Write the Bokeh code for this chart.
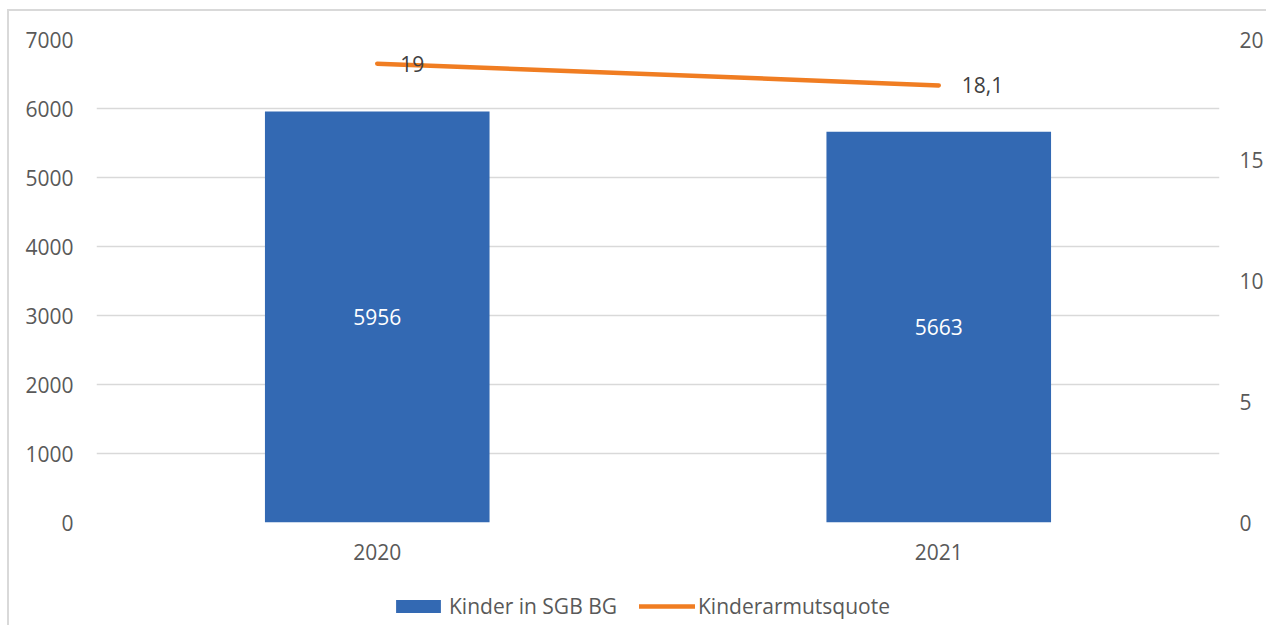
from bokeh.plotting import figure
from bokeh.models import (ColumnDataSource, Range1d, LinearAxis, FactorRange,
                          Legend, LegendItem, LabelSet, FixedTicker)
from bokeh.layouts import column
from bokeh.core.properties import value
from bokeh.embed import file_html
from bokeh.resources import INLINE

years = ["2020", "2021"]
kinder = [5956, 5663]
quote = [19, 18.1]
left_ticks = [0, 1000, 2000, 3000, 4000, 5000, 6000, 7000]
right_ticks = [0, 5, 10, 15, 20]
series_names = ["Kinder in SGB BG", "Kinderarmutsquote"]

FONT = "Open Sans"
FS = "21px"
BLUE = "#3369B3"
ORANGE = "#F07D22"
GRID = "#D9D9D9"
TXT = "#595959"
W = 1257


def fmt(v):
    s = ("%g" % v)
    return s.replace(".", ",")


src = ColumnDataSource(dict(
    x=years, kinder=kinder, quote=quote,
    kinder_mid=[v / 2 for v in kinder],
    kinder_lbl=[str(v) for v in kinder],
    quote_lbl=[fmt(v) for v in quote],
))

p = figure(width=W, height=569, x_range=FactorRange(*years, range_padding=0),
           y_range=Range1d(0, 7000), output_backend="svg", toolbar_location=None,
           min_border_left=87, min_border_right=46, min_border_top=28,
           min_border_bottom=58)
p.outline_line_color = None
p.background_fill_color = "white"
p.border_fill_color = "white"

p.extra_y_ranges = {"right": Range1d(0, 20)}

bars = p.vbar(x="x", top="kinder", width=0.4, source=src, color=BLUE, line_color=None)
line = p.line(x="x", y="quote", source=src, y_range_name="right",
              line_color=ORANGE, line_width=4.5, line_cap="round")

# bar labels
p.add_layout(LabelSet(x="x", y="kinder_mid", text="kinder_lbl", source=src,
                      text_align="center", text_baseline="middle",
                      text_color="white", text_font=value(FONT), text_font_size=value(FS)))
# line labels
p.add_layout(LabelSet(x="x", y="quote", text="quote_lbl", source=src,
                      y_range_name="right", x_offset=23,
                      text_align="left", text_baseline="middle",
                      text_color="#404040", text_font=value(FONT), text_font_size=value(FS)))

# axes
yl = p.yaxis[0]
yl.ticker = FixedTicker(ticks=left_ticks)
ra = LinearAxis(y_range_name="right", ticker=FixedTicker(ticks=right_ticks))
p.add_layout(ra, "right")
for ax in [yl, ra, p.xaxis[0]]:
    ax.axis_line_color = None
    ax.major_tick_line_color = None
    ax.minor_tick_line_color = None
    ax.major_tick_out = 0
    ax.major_tick_in = 0
    ax.major_label_text_font = FONT
    ax.major_label_text_font_size = FS
    ax.major_label_text_color = TXT
yl.major_label_standoff = 23
ra.major_label_standoff = 20
p.xaxis[0].major_label_standoff = 21

p.xgrid.grid_line_color = None
p.ygrid.grid_line_color = GRID
p.ygrid.grid_line_width = 1.5

# legend strip (separate figure below, same series styling)
lf = figure(width=W, height=45, x_range=FactorRange(*years), y_range=Range1d(0, 1),
            output_backend="svg", toolbar_location=None, min_border=0,
            x_axis_type=None, y_axis_type=None)
lf.outline_line_color = None
lf.grid.visible = False
lb = lf.vbar(x="x", top="kinder", width=0.4, source=src, color=BLUE, line_color=None,
             visible=False)
ll = lf.line(x="x", y="quote", source=src, line_color=ORANGE, line_width=4.5,
             line_cap="round", visible=False)
legend = Legend(items=[LegendItem(label=series_names[0], renderers=[lb]),
                       LegendItem(label=series_names[1], renderers=[ll])],
                orientation="horizontal", location=(294, 5),
                glyph_width=56, glyph_height=16, label_standoff=3, spacing=22,
                label_text_font=FONT, label_text_font_size=FS,
                label_text_color=TXT, border_line_color=None,
                background_fill_alpha=0, margin=0, padding=0)
lf.add_layout(legend, "center")

layout = column(p, lf, spacing=0)
layout.styles = {"margin-left": "7px", "margin-top": "9px",
                 "border-left": "2px solid #D9D9D9", "border-top": "2px solid #D9D9D9"}

open("out.html", "w").write(file_html(layout, INLINE))
